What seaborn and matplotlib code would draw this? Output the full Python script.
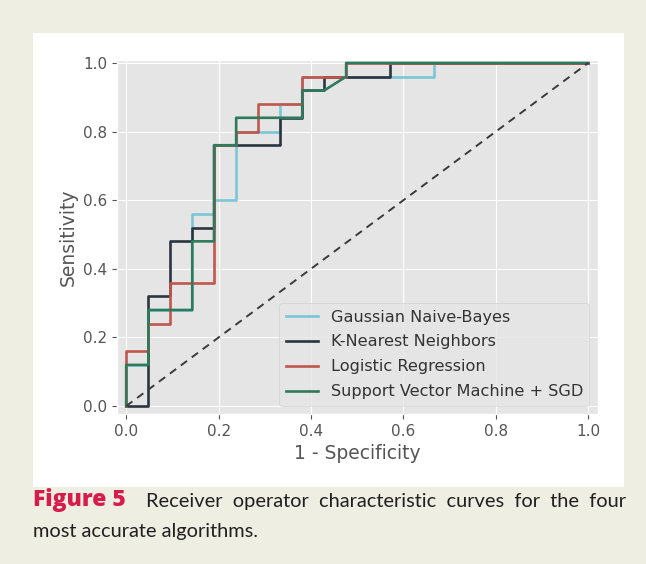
import pandas as pd
import seaborn as sns
import matplotlib.pyplot as plt
from matplotlib.patches import Rectangle

# ROC curves (false positive rate, true positive rate)
models = ['Gaussian Naive-Bayes', 'K-Nearest Neighbors',
          'Logistic Regression', 'Support Vector Machine + SGD']

gnb_fpr = [0, 0, 0.048, 0.048, 0.143, 0.143, 0.190, 0.190, 0.238, 0.238,
           0.333, 0.333, 0.381, 0.381, 0.667, 0.667, 1.0]
gnb_tpr = [0, 0.12, 0.12, 0.28, 0.28, 0.56, 0.56, 0.60, 0.60, 0.80,
           0.80, 0.88, 0.88, 0.96, 0.96, 1.0, 1.0]

knn_fpr = [0, 0.048, 0.048, 0.095, 0.095, 0.143, 0.143, 0.190, 0.190,
           0.333, 0.333, 0.381, 0.381, 0.429, 0.429, 0.571, 0.571, 1.0]
knn_tpr = [0, 0, 0.32, 0.32, 0.48, 0.48, 0.52, 0.52, 0.76,
           0.76, 0.84, 0.84, 0.92, 0.92, 0.96, 0.96, 1.0, 1.0]

lr_fpr = [0, 0, 0.048, 0.048, 0.095, 0.095, 0.190, 0.190, 0.238, 0.238,
          0.286, 0.286, 0.381, 0.381, 0.476, 0.476, 1.0]
lr_tpr = [0, 0.16, 0.16, 0.24, 0.24, 0.36, 0.36, 0.76, 0.76, 0.80,
          0.80, 0.88, 0.88, 0.96, 0.96, 1.0, 1.0]

svm_fpr = [0, 0, 0.048, 0.048, 0.143, 0.143, 0.190, 0.190, 0.238, 0.238,
           0.381, 0.381, 0.429, 0.476, 0.476, 1.0]
svm_tpr = [0, 0.12, 0.12, 0.28, 0.28, 0.48, 0.48, 0.76, 0.76, 0.84,
           0.84, 0.92, 0.92, 0.96, 1.0, 1.0]

chance = [0, 1]
ticks = [0.0, 0.2, 0.4, 0.6, 0.8, 1.0]

colors = ['#7cc6d6', '#2b3540', '#c0564c', '#2f7a5d']

frames = []
for name, fpr, tpr in zip(models, [gnb_fpr, knn_fpr, lr_fpr, svm_fpr],
                          [gnb_tpr, knn_tpr, lr_tpr, svm_tpr]):
    frames.append(pd.DataFrame({'fpr': fpr, 'tpr': tpr, 'model': name}))
df = pd.concat(frames, ignore_index=True)

plt.style.use('ggplot')
fig = plt.figure(figsize=(6.46, 5.64), dpi=100)
fig.patch.set_facecolor('#efeee3')
fig.patches.append(Rectangle((0.051, 0.1365), 0.915, 0.805, transform=fig.transFigure,
                             facecolor='white', edgecolor='none', zorder=-5))

ax = fig.add_axes([0.181, 0.266, 0.744, 0.628])
sns.lineplot(data=df, x='fpr', y='tpr', hue='model', hue_order=models,
             palette=dict(zip(models, colors)), sort=False, estimator=None,
             linewidth=1.9, ax=ax)
ax.plot(chance, chance, linestyle='--', color='#3a3a3a', linewidth=1.4, dashes=(4, 3))

ax.set_xlim(-0.02, 1.02)
ax.set_ylim(-0.023, 1.009)
ax.set_xticks(ticks)
ax.set_yticks(ticks)
ax.tick_params(labelsize=11, colors='#555555')
ax.set_xlabel('1 - Specificity', fontsize=13.5, color='#555555')
ax.set_ylabel('Sensitivity', fontsize=13.5, color='#555555')

sns.move_legend(ax, 'lower right', title=None, frameon=True,
                prop={'family': 'DejaVu Sans', 'size': 11.6},
                labelspacing=0.62, labelcolor='#333333')

# caption
fig.text(0.051, 1 - 500 / 564, 'Figure 5', color='#d61c4b', fontsize=16.5,
         fontweight='heavy', family='Open Sans', va='center')
fig.text(146 / 646, 1 - 501 / 564,
         'Receiver  operator  characteristic  curves  for  the  four',
         color='#231f20', fontsize=14.4, family='Lato', va='center')
fig.text(0.051, 1 - 531 / 564, 'most accurate algorithms.',
         color='#231f20', fontsize=14.4, family='Lato', va='center')

fig.savefig('out.png', dpi=100, facecolor=fig.get_facecolor())
